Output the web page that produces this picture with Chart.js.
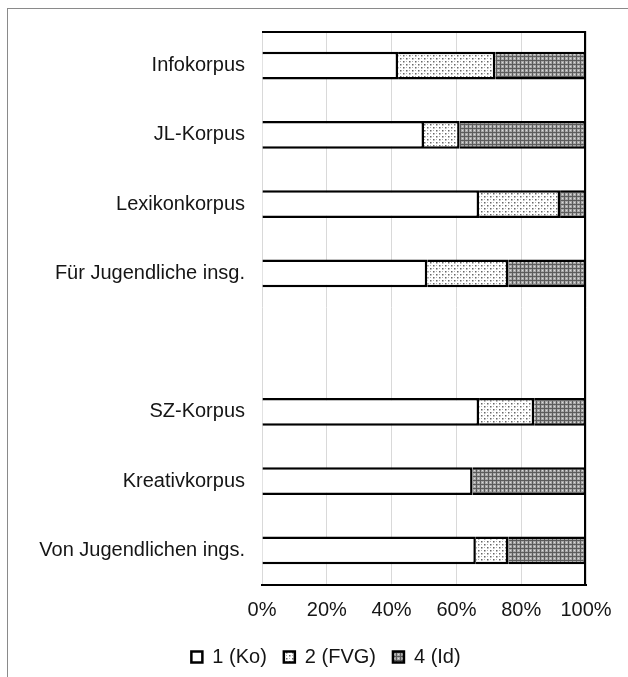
<!DOCTYPE html>
<html lang="de">
<head>
<meta charset="UTF-8">
<script src="https://cdn.jsdelivr.net/npm/chart.js"></script>
<title>Korpora</title>
<style>
  html, body { margin: 0; padding: 0; background: #fff; }
  #wrap { position: relative; width: 628px; height: 677px; }
  #frame { position: absolute; left: 7px; top: 8px; right: -5px; bottom: -5px;
           border-left: 1px solid #8a8a8a; border-top: 1px solid #8a8a8a; }
  canvas { position: absolute; left: 0; top: 0; }
</style>
</head>
<body>
<div id="wrap">
  <div id="frame"></div>
  <canvas id="chart" width="628" height="677"></canvas>
</div>
<script>
// categories (leer = Abstand zwischen den Gruppen)
const categories = ['Infokorpus', 'JL-Korpus', 'Lexikonkorpus', 'Für Jugendliche insg.', '',
                    'SZ-Korpus', 'Kreativkorpus', 'Von Jugendlichen ings.'];
const seriesNames = ['1 (Ko)', '2 (FVG)', '4 (Id)'];
const ko  = [42, 50, 67, 51, null, 67, 65, 66];
const fvg = [30, 11, 25, 25, null, 17, 0, 10];
const id  = [28, 39, 8, 24, null, 16, 35, 24];
const xTicks = [0, 20, 40, 60, 80, 100];

// fill patterns
function dotPattern(ctx) {
    const c = document.createElement('canvas');
    c.width = 6; c.height = 6;
    const g = c.getContext('2d');
    g.fillStyle = '#fff';
    g.fillRect(0, 0, 6, 6);
    g.fillStyle = '#666';
    g.fillRect(1, 1, 1.5, 1.5);
    g.fillRect(4, 4, 1.5, 1.5);
    g.fillStyle = '#b0b0b0';
    g.fillRect(4, 1, 1, 1);
    g.fillRect(1, 4, 1, 1);
    return ctx.createPattern(c, 'repeat');
}
function meshPattern(ctx) {
    const c = document.createElement('canvas');
    c.width = 4; c.height = 4;
    const g = c.getContext('2d');
    g.fillStyle = '#a8a8a8';
    g.fillRect(0, 0, 4, 4);
    g.fillStyle = '#5c5c5c';
    g.fillRect(0, 0, 1, 4);
    g.fillRect(0, 0, 4, 1);
    g.fillStyle = '#dcdcdc';
    g.fillRect(2, 2, 1, 1);
    return ctx.createPattern(c, 'repeat');
}

const ctx = document.getElementById('chart').getContext('2d');

// Rahmen oben und rechts um die Zeichenfläche
const plotFrame = {
    id: 'plotFrame',
    afterDatasetsDraw(chart) {
        const a = chart.chartArea, c = chart.ctx;
        c.save();
        c.strokeStyle = '#000';
        c.lineWidth = 2;
        c.beginPath();
        c.moveTo(a.left, a.top + 1);
        c.lineTo(a.right - 1, a.top + 1);
        c.lineTo(a.right - 1, a.bottom);
        c.stroke();
        c.restore();
    }
};

// Legende etwas nach rechts schieben (wie im Original)
const legendShift = {
    id: 'legendShift',
    afterLayout(chart) {
        const lg = chart.legend;
        if (!lg) return;
        lg.left += 33;
        lg.right += 33;
        if (lg.legendHitBoxes) lg.legendHitBoxes.forEach(h => { h.left += 33; });
    }
};

const fills = ['#ffffff', dotPattern(ctx), meshPattern(ctx)];
const values = [ko, fvg, id];

new Chart(ctx, {
    type: 'bar',
    data: {
        labels: categories,
        datasets: values.map((v, i) => ({
            label: seriesNames[i],
            data: v,
            backgroundColor: fills[i],
            borderColor: '#000',
            borderWidth: 2.5,
            categoryPercentage: 0.8,
            barPercentage: 0.5
        }))
    },
    options: {
        indexAxis: 'y',
        responsive: false,
        animation: false,
        layout: { padding: { top: 31, right: 42, left: 0, bottom: 0 } },
        scales: {
            x: {
                stacked: true,
                min: 0,
                max: 100,
                afterBuildTicks: s => { s.ticks = xTicks.map(v => ({ value: v })); },
                afterFit: s => { s.height -= 5; },
                grid: { color: '#d9d9d9', lineWidth: 1, drawTicks: false },
                border: { color: '#000', width: 2 },
                ticks: {
                    padding: 13,
                    color: '#151515',
                    font: { family: 'Liberation Sans', size: 20 },
                    callback: v => v + '%'
                }
            },
            y: {
                stacked: true,
                grid: { display: false, drawTicks: false },
                border: { display: false },
                afterFit: s => { s.width = 262; },
                ticks: {
                    padding: 17,
                    color: '#151515',
                    font: { family: 'Liberation Sans', size: 20 }
                }
            }
        },
        plugins: {
            tooltip: { enabled: false },
            legend: {
                position: 'bottom',
                labels: {
                    boxWidth: 11,
                    boxHeight: 11,
                    padding: 17,
                    color: '#151515',
                    font: { family: 'Liberation Sans', size: 20 }
                }
            }
        }
    },
    plugins: [plotFrame, legendShift]
});
</script>
</body>
</html>
